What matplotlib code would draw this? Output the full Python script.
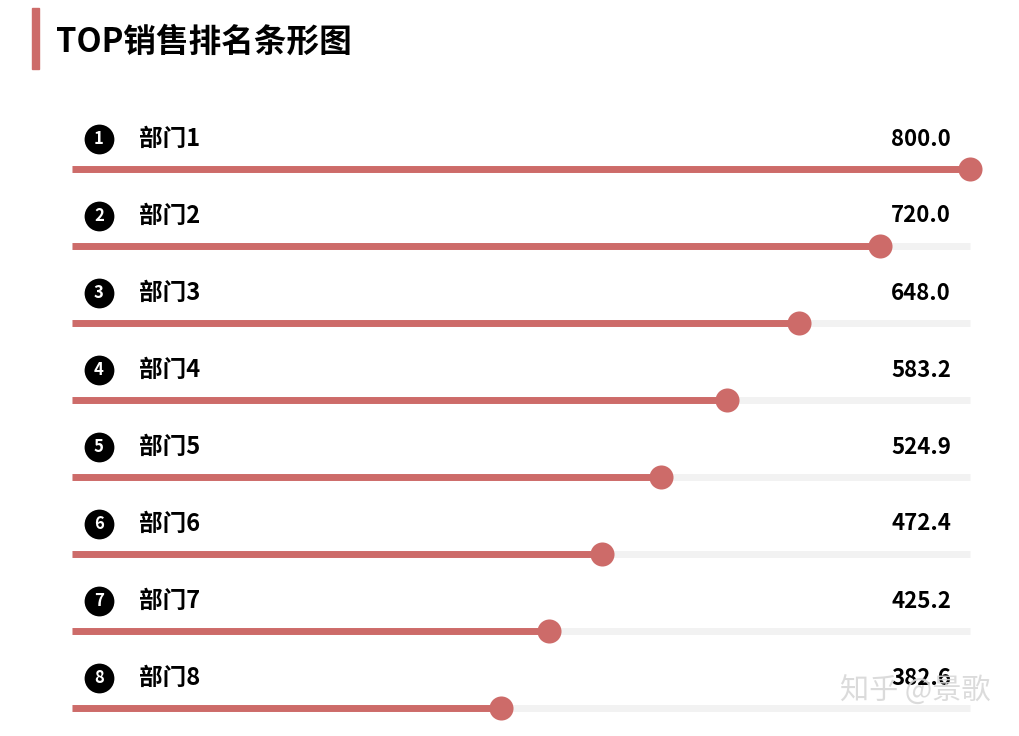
import matplotlib.pyplot as plt
from matplotlib.patches import Rectangle

plt.rcParams['font.family'] = ['Noto Sans CJK SC', 'DejaVu Sans']

departments = ["部门1", "部门2", "部门3", "部门4", "部门5", "部门6", "部门7", "部门8"]
sales = [800.0, 720.0, 648.0, 583.2, 524.9, 472.4, 425.2, 382.6]
max_value = 800.0

red = "#cd6b69"
track = "#f2f2f2"

fig = plt.figure(figsize=(10.2, 7.36), dpi=100)
W, H = 1020, 736

# title with red accent bar
fig.patches.append(Rectangle((32 / W, 1 - 69 / H), 7 / W, 61 / H,
                             transform=fig.transFigure, color=red))
fig.text(56 / W, 1 - 42 / H, "TOP销售排名条形图", fontsize=23.5, fontweight="bold",
         va="center", ha="left")

# one data unit in y = 77 px, bar 0 at 169 px
top_px, bot_px = 100, 736
ax = fig.add_axes([72 / W, 1 - bot_px / H, 898 / W, (bot_px - top_px) / H])
ax.set_xlim(0, max_value)
ax.set_ylim(7 + (bot_px - 708) / 77, -(169 - top_px) / 77)
ax.axis("off")

ranks = list(range(len(departments)))
label_dy = 30 / 77

ax.hlines(ranks, 0, max_value, color=track, lw=5, zorder=1, clip_on=False)
ax.hlines(ranks, 0, sales, color=red, lw=5, zorder=2, clip_on=False)
ax.scatter(sales, ranks, s=300, color=red, zorder=3, clip_on=False, linewidths=0)

label_y = [r - label_dy for r in ranks]
ax.scatter([24] * len(ranks), label_y, s=460, color="black", zorder=3,
           clip_on=False, linewidths=0)
for r, y, name, val in zip(ranks, label_y, departments, sales):
    ax.text(24, y, str(r + 1), color="white", fontsize=12, fontweight="bold",
            ha="center", va="center", zorder=4)
    ax.text(60, y, name, fontsize=17, fontweight="bold", ha="left", va="center")
    ax.text(783, y, f"{val:.1f}", fontsize=16, fontweight="bold",
            ha="right", va="center")

# watermark
fig.text(915 / W, 1 - 692 / H, "知乎 @景歌", fontsize=21, color="#d8d8d8",
         ha="center", va="center", alpha=0.9)

fig.savefig("out.png", dpi=100, facecolor="white")
